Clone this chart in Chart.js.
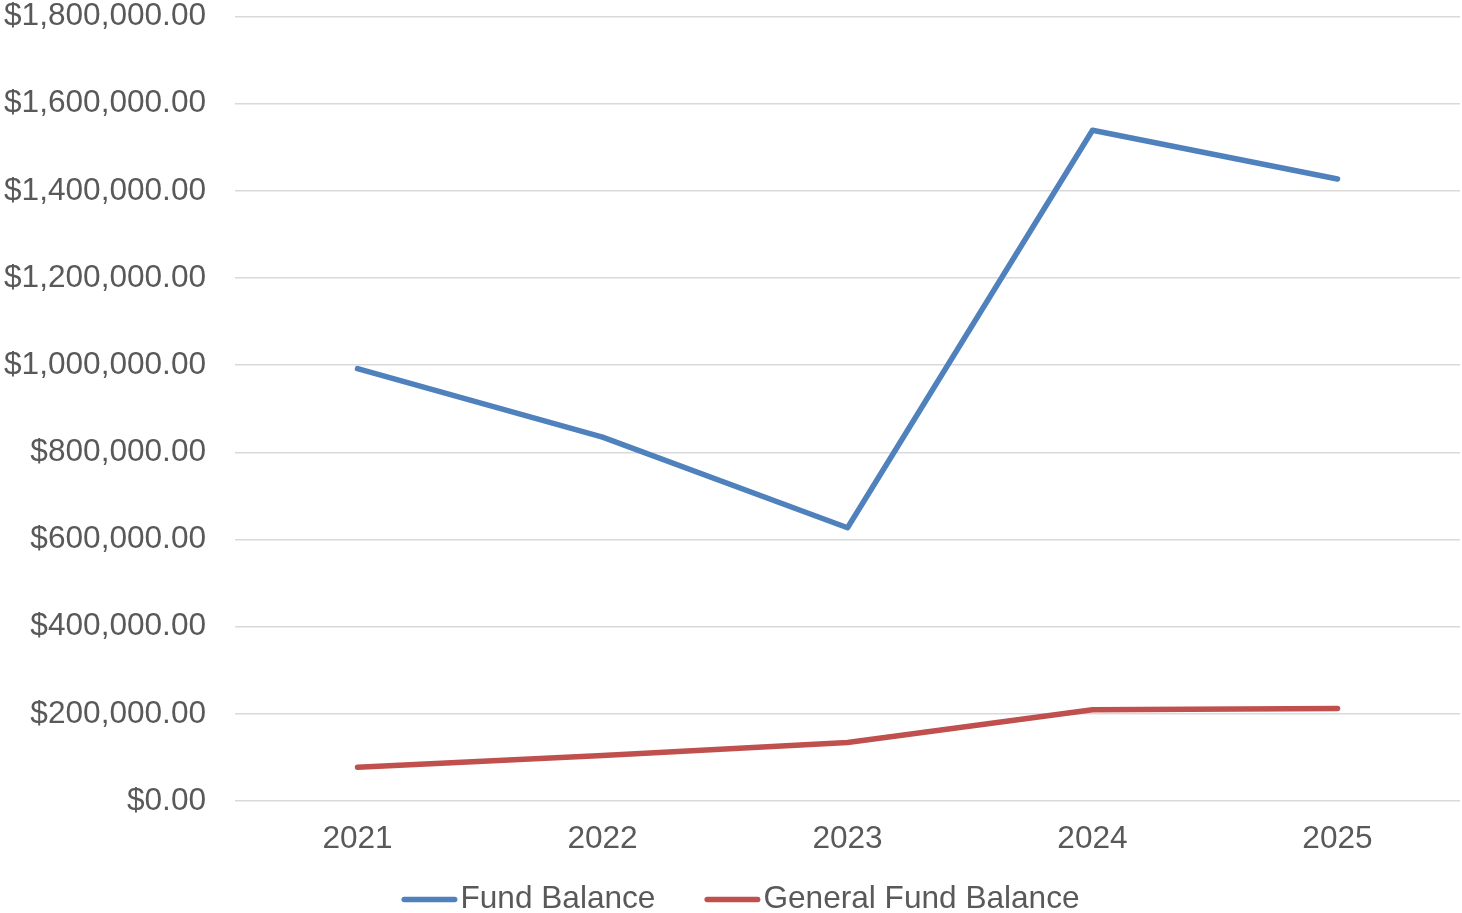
<!DOCTYPE html>
<html lang="en">
<head>
    <meta charset="UTF-8">
    <title>Fund Balance</title>
    <script src="https://cdn.jsdelivr.net/npm/chart.js@4.4.1/dist/chart.umd.min.js"></script>
    <style>
        *{margin:0; padding:0;}
        body{background:#fff;}
        #wrap{width:1462px; height:913px; position:relative;}
    </style>
</head>
<body>
    <div id="wrap">
        <canvas id="lineChart"></canvas>
    </div>

    <script>
        const years = ['2021', '2022', '2023', '2024', '2025']
        const fundBalance = [992000, 835000, 627000, 1539000, 1427000]
        const generalFundBalance = [77600, 104500, 134300, 209400, 212400]
        const seriesNames = ['Fund Balance', 'General Fund Balance']
        const seriesColors = ['#4f81bd', '#c0504d']

        const FONT = "'Liberation Sans', Arial, sans-serif"
        const FONT_SIZE = 31.6
        const TEXT_COLOR = '#595959'

        function money(v){
            return '$' + Number(v).toLocaleString('en-US', {minimumFractionDigits:2, maximumFractionDigits:2})
        }

        // legend under the axis: short line swatch then the text, office style
        const bottomLegend = {
            id:'bottomLegend',
            afterDraw:function(chart){
                const ctx = chart.ctx
                const lineLen = 56
                const textGap = 3
                const itemGap = 49
                const lineY = 899.5
                const textY = 908

                ctx.save()
                ctx.font = FONT_SIZE + 'px ' + FONT
                ctx.textBaseline = 'alphabetic'
                ctx.textAlign = 'left'

                const items = chart.data.datasets.map(function(ds){
                    return {label:ds.label, color:ds.borderColor, w:ctx.measureText(ds.label).width}
                })
                let total = 0
                items.forEach(function(it, i){
                    total += lineLen + textGap + it.w
                    if(i > 0) total += itemGap
                })
                let x = chart.width / 2 + 9.5 - total / 2

                items.forEach(function(it){
                    ctx.beginPath()
                    ctx.strokeStyle = it.color
                    ctx.lineWidth = 5.5
                    ctx.lineCap = 'round'
                    ctx.moveTo(x + 2.75, lineY)
                    ctx.lineTo(x + lineLen - 2.75, lineY)
                    ctx.stroke()
                    x += lineLen + textGap
                    ctx.fillStyle = TEXT_COLOR
                    ctx.fillText(it.label, x, textY)
                    x += it.w + itemGap
                })
                ctx.restore()
            }
        }

        function lineSet(i, values){
            return {
                label:seriesNames[i],
                data:values,
                borderColor:seriesColors[i],
                backgroundColor:seriesColors[i],
                borderWidth:5.5,
                pointRadius:0,
                pointHoverRadius:0,
                borderCapStyle:'round',
                borderJoinStyle:'round',
                tension:0
            }
        }

        const config = {
            type:'line',
            data:{
                labels:years,
                datasets:[lineSet(0, fundBalance), lineSet(1, generalFundBalance)]
            },
            options:{
                responsive:true,
                maintainAspectRatio:false,
                animation:false,
                layout:{
                    padding:{top:0, left:4, right:2, bottom:56}
                },
                plugins:{
                    legend:{display:false},
                    tooltip:{enabled:false}
                },
                scales:{
                    x:{
                        offset:true,
                        grid:{display:false, drawTicks:false},
                        border:{display:false},
                        ticks:{
                            color:TEXT_COLOR,
                            padding:19,
                            font:{family:FONT, size:FONT_SIZE, lineHeight:1.2},
                            maxRotation:0
                        },
                        afterFit:function(scale){
                            // chart.js counts tick padding twice, keep the box tight
                            scale.height = 56
                        }
                    },
                    y:{
                        min:0,
                        max:1800000,
                        grid:{color:'#d9d9d9', lineWidth:1.5, drawTicks:false},
                        border:{display:false},
                        ticks:{
                            stepSize:200000,
                            color:TEXT_COLOR,
                            padding:29,
                            font:{family:FONT, size:FONT_SIZE, lineHeight:1.0},
                            callback:function(v){ return money(v) }
                        },
                        afterFit:function(scale){
                            scale.width -= 29
                            scale.paddingTop = 16.5
                            scale.paddingBottom = 0
                        }
                    }
                }
            },
            plugins:[bottomLegend]
        }

        const ctx = document.querySelector('#lineChart').getContext('2d')
        let lineChart = new Chart(ctx, config)
    </script>
</body>
</html>
